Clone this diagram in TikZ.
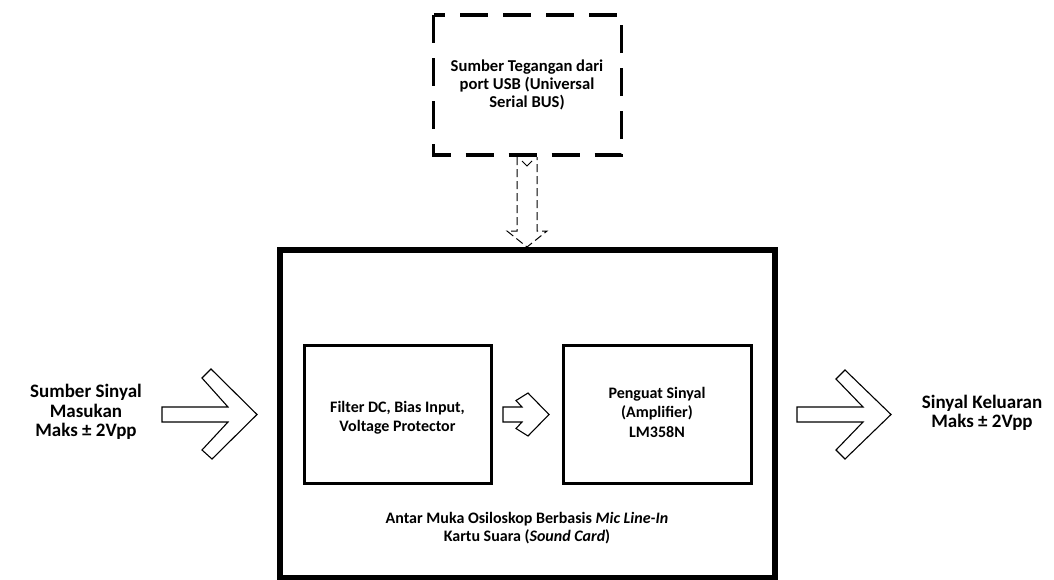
\documentclass[tikz,border=0pt]{standalone}
\usepackage{fontspec}
\setmainfont{Carlito}
\begin{document}
\begin{tikzpicture}[x=1pt,y=-1pt,
  lbl/.style={font=\bfseries\fontsize{16}{19.5}\selectfont, align=center, inner sep=0pt},
  sidelbl/.style={font=\bfseries\fontsize{19}{19.5}\selectfont, align=center, inner sep=0pt},
  usblbl/.style={font=\bfseries\fontsize{16.6}{18}\selectfont, align=center, inner sep=0pt},
  mainbox/.style={draw, line width=6pt},
  subbox/.style={draw, line width=3pt},
  usbbox/.style={draw, line width=3.5pt, dash pattern=on 28pt off 15pt},
  blockarrow/.style={draw, line width=1.1pt, fill=white, line join=miter},
  dasharrow/.style={draw, line width=1pt, dash pattern=on 8pt off 4pt}]
\useasboundingbox (0,0) rectangle (1054,579);
% main box
\draw[mainbox] (280,250) rectangle (774.5,578);
% USB box
\draw[usbbox] (433.5,15) rectangle (621.5,155);
\node[usblbl] (usb) at (527,85) {Sumber Tegangan dari\\port USB (Universal\\Serial BUS)};
% dashed block arrow from USB to main box
\draw[dasharrow] (517,157) -- (517,231) -- (507,231) -- (527,247) -- (547,231) -- (537,231) -- (537,157);
\draw[dasharrow, dash pattern=] (522,161) -- (527,166) -- (532,161);
% sub boxes
\draw[subbox] (304.5,345) rectangle (491,483);
\node[lbl] (filter) at (397.5,417.5) {Filter DC, Bias Input,\\Voltage Protector};
\draw[subbox] (563,345) rectangle (751,483);
\node[lbl] (amp) at (657,412) {Penguat Sinyal\\(Amplifier)\\LM358N};
% main label
\node[lbl, font=\bfseries\fontsize{16}{18.5}\selectfont] (mainlbl) at (527,528) {Antar Muka Osiloskop Berbasis \textit{Mic Line-In}\\Kartu Suara (\textit{Sound Card})};
% input arrow
\draw[blockarrow] (162,407) -- (228,407) -- (202,378) -- (211,369) -- (257,414.5) -- (212,459) -- (202,450) -- (228,422) -- (162,422) -- cycle;
\node[sidelbl] (inlbl) at (86,412) {Sumber Sinyal\\Masukan\\Maks ± 2Vpp};
% output arrow
\draw[blockarrow] (797,407) -- (863,407) -- (836,379) -- (845,370) -- (891,414.5) -- (845,459) -- (836,450) -- (863,422) -- (797,422) -- cycle;
\node[sidelbl] (outlbl) at (982,413) {Sinyal Keluaran\\Maks ± 2Vpp};
% small arrow between boxes
\draw[blockarrow] (503,407) -- (522,407) -- (516,400.5) -- (528,393) -- (549,414.5) -- (528,436) -- (516,428.5) -- (522,422) -- (503,422) -- cycle;
\end{tikzpicture}
\end{document}
